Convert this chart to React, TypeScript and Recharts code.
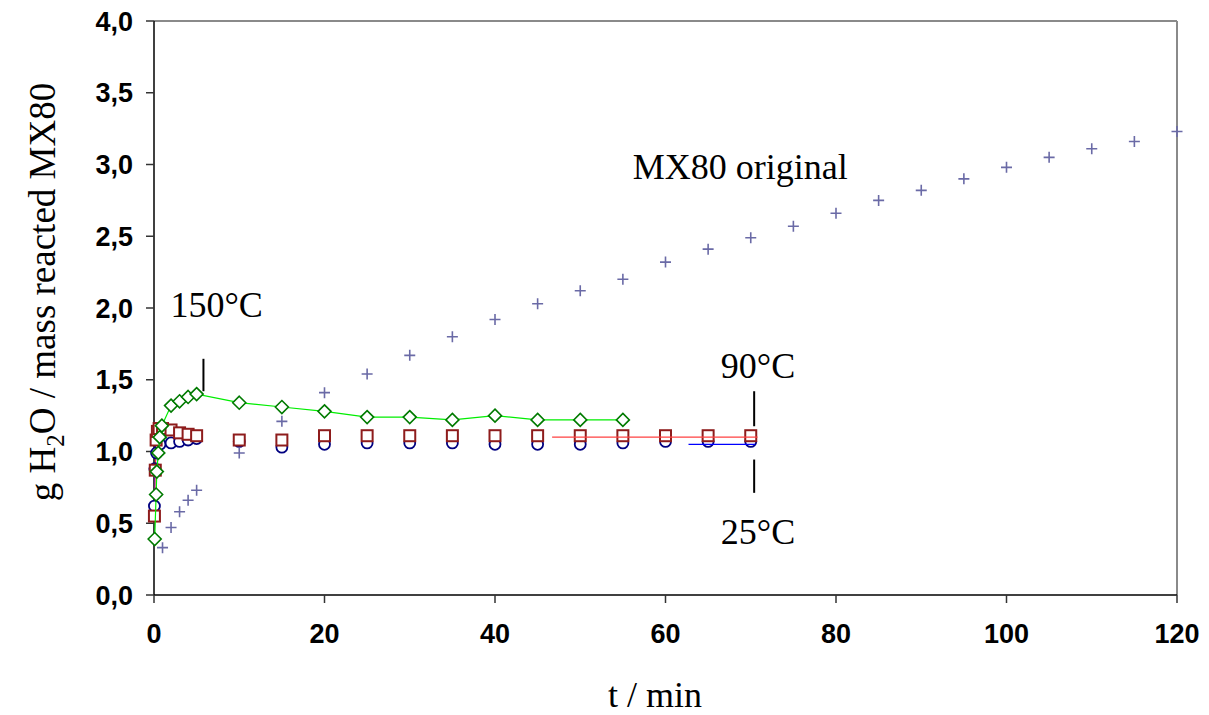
import React from 'react';
import { ScatterChart, Scatter, XAxis, YAxis, ReferenceLine, ReferenceDot } from 'recharts';

// MX80 original (crosses)
const mx80Times = [1, 2, 3, 4, 5, 10, 15, 20, 25, 30, 35, 40, 45, 50, 55, 60, 65, 70, 75, 80, 85, 90, 95, 100, 105, 110, 115, 120];
const mx80Values = [0.33, 0.47, 0.58, 0.66, 0.73, 0.99, 1.21, 1.41, 1.54, 1.67, 1.8, 1.92, 2.03, 2.12, 2.2, 2.32, 2.41, 2.49, 2.57, 2.66, 2.75, 2.82, 2.9, 2.98, 3.05, 3.11, 3.16, 3.23];

// 150°C (diamonds)
const t150Times = [0.08, 0.25, 0.33, 0.5, 0.67, 0.92, 2, 3, 4, 5, 10, 15, 20, 25, 30, 35, 40, 45, 50, 55];
const t150Values = [0.39, 0.7, 0.86, 0.99, 1.1, 1.18, 1.32, 1.35, 1.38, 1.4, 1.34, 1.31, 1.28, 1.24, 1.24, 1.22, 1.25, 1.22, 1.22, 1.22];

// 90°C (squares)
const t90Times = [0.05, 0.15, 0.25, 0.4, 0.6, 1, 2, 3, 4, 5, 10, 15, 20, 25, 30, 35, 40, 45, 50, 55, 60, 65, 70];
const t90Values = [0.55, 0.87, 1.08, 1.14, 1.16, 1.16, 1.15, 1.13, 1.12, 1.11, 1.08, 1.08, 1.11, 1.11, 1.11, 1.11, 1.11, 1.11, 1.11, 1.11, 1.11, 1.11, 1.11];
const t90TailTimes = [46.7, 70.8];
const t90TailValues = [1.1, 1.1];

// 25°C (circles)
const t25Times = [0.05, 0.1, 0.3, 0.7, 2, 3, 4, 5, 10, 15, 20, 25, 30, 35, 40, 45, 50, 55, 60, 65, 70];
const t25Values = [0.62, 0.88, 0.99, 1.05, 1.06, 1.07, 1.08, 1.09, 1.07, 1.03, 1.05, 1.06, 1.06, 1.06, 1.05, 1.05, 1.05, 1.06, 1.07, 1.07, 1.07];
const t25TailTimes = [62.7, 70.5];
const t25TailValues = [1.05, 1.05];

const xTicks = [0, 20, 40, 60, 80, 100, 120];
const yTicks = [0, 0.5, 1, 1.5, 2, 2.5, 3, 3.5, 4];

// annotation texts and their pointer lines, in data units
const annotations = [
  { text: 'MX80 original', t: 56.15, y: 2.9, anchor: 'start' },
  { text: '150°C', t: 7.35, y: 1.94, anchor: 'middle' },
  { text: '90°C', t: 70.85, y: 1.514, anchor: 'middle' },
  { text: '25°C', t: 70.85, y: 0.352, anchor: 'middle' },
];
const pointers = [
  { t: 5.8, from: 1.42, to: 1.646 },
  { t: 70.4, from: 1.176, to: 1.42 },
  { t: 70.4, from: 0.712, to: 0.944 },
];

const zip = (ts: number[], vs: number[]) => ts.map((t, i) => ({ t, y: vs[i] }));

const mx80Data = zip(mx80Times, mx80Values);
const d150 = zip(t150Times, t150Values);
const d90 = zip(t90Times, t90Values);
const d25 = zip(t25Times, t25Values);
const d90Early = d90.filter((d) => d.t <= 1);
const d25Early = d25.filter((d) => d.t <= 1);
const d90Tail = zip(t90TailTimes, t90TailValues);
const d25Tail = zip(t25TailTimes, t25TailValues);

const SERIF = 'Liberation Serif';
const SANS = "'Liberation Sans', Arial, sans-serif";

const Plus = (p: any) => (
  <path
    d={`M${p.cx - 5.5},${p.cy}H${p.cx + 5.5}M${p.cx},${p.cy - 5.5}V${p.cy + 5.5}`}
    stroke="#6a6aa6"
    strokeWidth={1.6}
    fill="none"
  />
);
const Square = (p: any) => (
  <rect x={p.cx - 5.5} y={p.cy - 5.5} width={11} height={11} fill="#fff" stroke="#8e1c1c" strokeWidth={2} />
);
const Ring = (p: any) => <circle cx={p.cx} cy={p.cy} r={5.5} fill="#fff" stroke="#000080" strokeWidth={1.8} />;
const Diamond = (p: any) => (
  <path
    d={`M${p.cx},${p.cy - 6.5}L${p.cx + 6.5},${p.cy}L${p.cx},${p.cy + 6.5}L${p.cx - 6.5},${p.cy}Z`}
    fill="#fff"
    stroke="#007a00"
    strokeWidth={1.6}
  />
);
const NoDot = () => <g />;

const fmtY = (v: number) => v.toFixed(1).replace('.', ',');

// y-axis title with subscript, drawn rotated at a fixed spot left of the axis
const YTitle = () => (
  <g transform="translate(55, 292) rotate(-90)">
    <text x={0} y={0} textAnchor="middle" fontFamily={SERIF} fontSize={37} fill="#000">
      g H<tspan fontFamily={SERIF} dy={9} fontSize={25}>2</tspan>
      <tspan fontFamily={SERIF} dy={-9}>O / mass reacted MX80</tspan>
    </text>
  </g>
);

export default function App() {
  return (
    <div style={{ position: 'absolute', left: 0, top: 0, background: '#fff' }}>
      <ScatterChart width={1209} height={715} margin={{ top: 21, right: 32, bottom: 0, left: 0 }}>
        <XAxis
          type="number"
          dataKey="t"
          domain={[0, 120]}
          ticks={xTicks}
          height={120}
          tickSize={8}
          tickMargin={21}
          axisLine={{ stroke: '#000', strokeWidth: 1.5 }}
          tickLine={{ stroke: '#333', strokeWidth: 1.5 }}
          tick={{ fill: '#000', fontFamily: SANS, fontWeight: 'bold', fontSize: 27 }}
          label={{
            value: 't / min',
            content: () => (
              <text x={655} y={707} textAnchor="middle" fontFamily={SERIF} fontSize={36} fill="#000">
                t / min
              </text>
            ),
          }}
        />
        <YAxis
          type="number"
          dataKey="y"
          domain={[0, 4]}
          ticks={yTicks}
          width={154}
          tickSize={8}
          tickMargin={13}
          tickFormatter={fmtY}
          axisLine={{ stroke: '#000', strokeWidth: 1.5 }}
          tickLine={{ stroke: '#333', strokeWidth: 1.5 }}
          tick={{ fill: '#000', fontFamily: SANS, fontWeight: 'bold', fontSize: 27 }}
          label={{ value: 'g H2O / mass reacted MX80', content: () => <YTitle /> }}
        />
        <ReferenceLine y={4} stroke="#8a8a8a" strokeWidth={2} />
        <ReferenceLine x={120} stroke="#8a8a8a" strokeWidth={2} />

        <Scatter data={d25Early} shape={NoDot} line={{ stroke: '#0000ff', strokeWidth: 1 }} isAnimationActive={false} />
        <Scatter data={d90Early} shape={NoDot} line={{ stroke: '#ff3030', strokeWidth: 1 }} isAnimationActive={false} />
        <Scatter data={d25} shape={Ring} isAnimationActive={false} />
        <Scatter data={d90} shape={Square} isAnimationActive={false} />
        <Scatter data={d150} shape={Diamond} line={{ stroke: '#00ee00', strokeWidth: 1.2 }} isAnimationActive={false} />
        <Scatter data={mx80Data} shape={Plus} isAnimationActive={false} />
        <Scatter data={d90Tail} shape={NoDot} line={{ stroke: '#ff4040', strokeWidth: 1.2 }} isAnimationActive={false} />
        <Scatter data={d25Tail} shape={NoDot} line={{ stroke: '#0000ff', strokeWidth: 1.2 }} isAnimationActive={false} />

        {pointers.map((p, i) => (
          <ReferenceLine
            key={`p-${i}`}
            segment={[
              { x: p.t, y: p.from },
              { x: p.t, y: p.to },
            ]}
            stroke="#000"
            strokeWidth={2}
          />
        ))}
        {annotations.map((a, i) => (
          <ReferenceDot
            key={`a-${i}`}
            x={a.t}
            y={a.y}
            r={1}
            fill="none"
            stroke="none"
            label={{
              value: a.text,
              content: (props: any) => {
                const vb = props.viewBox || { x: 0, y: 0, width: 0, height: 0 };
                return (
                  <text
                    x={vb.x + (vb.width || 0) / 2}
                    y={vb.y + (vb.height || 0) / 2}
                    textAnchor={a.anchor as any}
                    fontFamily={SERIF}
                    fontSize={36}
                    fill="#000"
                  >
                    {a.text}
                  </text>
                );
              },
            }}
          />
        ))}
      </ScatterChart>
    </div>
  );
}
